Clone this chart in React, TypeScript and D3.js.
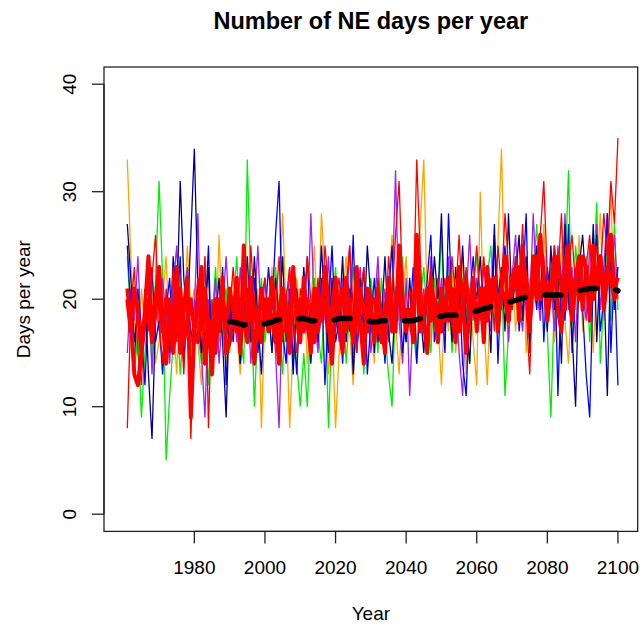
import React from "react";
import * as d3 from "d3";

// Annual counts of NE days, 1961–2100, one array per ensemble member.
const startYear = 1961;

const orange = [
  33, 24, 18, 15, 21, 17, 19, 23, 14, 16,
  20, 24, 15, 18, 13, 22, 17, 25, 19, 21,
  16, 12, 24, 18, 20, 15, 26, 17, 14, 19,
  22, 17, 13, 20, 24, 16, 18, 21, 8, 19,
  17, 23, 15, 20, 28, 19, 8, 16, 22, 18,
  21, 14, 19, 25, 17, 28, 22, 13, 18, 8,
  15, 20, 24, 17, 12, 19, 22, 16, 21, 18,
  14, 23, 19, 16, 21, 26, 18, 13, 20, 24,
  17, 21, 15, 27, 33, 19, 16, 22, 18, 12,
  20, 17, 23, 15, 19, 24, 13, 21, 16, 12,
  30, 18, 12, 22, 19, 25, 34, 20, 16, 23,
  17, 21, 26, 15, 22, 19, 24, 18, 27, 20,
  23, 16, 21, 25, 18, 14, 22, 19, 26, 17,
  20, 24, 15, 22, 28, 18, 23, 30, 19, 21,
];

const blue = [
  25, 19, 14, 21, 17, 12, 20, 23, 16, 18,
  13, 19, 22, 15, 18, 24, 14, 20, 17, 16,
  22, 15, 18, 25, 13, 20, 17, 23, 12, 19,
  16, 21, 14, 19, 24, 17, 22, 15, 20, 18,
  23, 19, 26, 31, 17, 14, 21, 18, 13, 20,
  18, 24, 15, 20, 16, 22, 12, 19, 25, 17,
  20, 14, 21, 17, 26, 15, 19, 23, 13, 18,
  22, 16, 19, 14, 20, 25, 17, 21, 15, 19,
  18, 23, 14, 20, 17, 22, 26, 16, 19, 21,
  15, 28, 19, 17, 22, 14, 11, 20, 24, 18,
  21, 16, 23, 19, 27, 14, 22, 25, 18, 20,
  24, 17, 21, 28, 15, 22, 19, 26, 16, 23,
  20, 25, 11, 22, 18, 27, 15, 21, 24, 19,
  13, 9, 22, 26, 17, 20, 28, 15, 23, 12,
];

const darkBlue = [
  27, 22, 16, 19, 14, 21, 13, 7, 18, 23,
  17, 20, 15, 24, 19, 31, 22, 18, 26, 34,
  21, 15, 19, 23, 13, 18, 22, 16, 9, 20,
  17, 22, 14, 19, 21, 16, 24, 18, 13, 20,
  19, 15, 22, 18, 24, 16, 20, 13, 21, 17,
  23, 18, 14, 20, 17, 25, 19, 15, 22, 16,
  18, 24, 16, 21, 13, 19, 22, 17, 25, 20,
  15, 21, 18, 24, 17, 14, 20, 23, 19, 16,
  22, 17, 25, 19, 15, 21, 18, 24, 20, 28,
  17, 21, 16, 23, 19, 25, 18, 14, 22, 20,
  24, 18, 21, 15, 26, 20, 23, 17, 28, 19,
  22, 26, 18, 24, 16, 21, 25, 19, 23, 17,
  25, 19, 22, 14, 27, 20, 17, 10, 23, 26,
  21, 18, 27, 16, 24, 22, 11, 25, 19, 23,
];

const green = [
  24, 18, 13, 17, 9, 15, 20, 14, 22, 31,
  22, 5, 11, 16, 19, 13, 18, 21, 15, 20,
  17, 14, 20, 12, 18, 23, 16, 19, 21, 15,
  19, 24, 17, 14, 33, 21, 10, 18, 22, 16,
  20, 15, 23, 18, 13, 21, 16, 19, 14, 10,
  15, 10, 19, 22, 17, 14, 21, 8, 18, 23,
  17, 21, 14, 19, 23, 16, 20, 13, 18, 22,
  19, 15, 22, 17, 13, 10, 20, 18, 24, 16,
  21, 17, 14, 20, 23, 18, 15, 22, 19, 26,
  18, 23, 15, 20, 17, 22, 19, 14, 21, 24,
  19, 16, 22, 25, 18, 20, 23, 11, 17, 21,
  23, 18, 25, 20, 16, 22, 27, 19, 21, 17,
  9, 20, 24, 18, 22, 32, 17, 25, 21, 19,
  24, 16, 22, 29, 14, 20, 25, 18, 27, 19,
];

const purple = [
  15, 21, 18, 24, 16, 19, 22, 13, 20, 17,
  22, 18, 14, 21, 25, 17, 20, 23, 16, 19,
  28, 15, 9, 20, 17, 22, 14, 19, 24, 18,
  20, 16, 23, 18, 21, 14, 19, 25, 17, 22,
  18, 21, 15, 8, 20, 17, 23, 14, 19, 16,
  22, 17, 28, 19, 15, 21, 18, 24, 16, 20,
  16, 22, 18, 25, 14, 20, 23, 17, 21, 15,
  19, 24, 17, 21, 16, 20, 32, 18, 14, 22,
  11, 19, 23, 17, 21, 15, 24, 20, 18, 22,
  19, 24, 17, 21, 15, 11, 20, 26, 18, 22,
  18, 23, 20, 17, 25, 21, 19, 24, 16, 22,
  26, 20, 17, 23, 19, 28, 21, 18, 24, 20,
  22, 17, 25, 20, 28, 19, 23, 16, 24, 21,
  18, 25, 21, 27, 19, 23, 28, 22, 26, 20,
];

const red = [
  8, 19, 23, 15, 12, 20, 17, 22, 26, 18,
  14, 21, 17, 23, 16, 19, 13, 20, 7, 18,
  22, 17, 24, 8, 20, 15, 18, 21, 16, 19,
  23, 18, 15, 21, 17, 25, 19, 16, 20, 22,
  17, 21, 19, 24, 16, 20, 23, 18, 15, 21,
  19, 24, 20, 17, 22, 18, 25, 21, 16, 20,
  22, 17, 21, 25, 19, 15, 20, 23, 18, 21,
  17, 22, 19, 15, 24, 20, 26, 31, 21, 18,
  21, 19, 33, 24, 17, 20, 23, 18, 22, 19,
  22, 18, 24, 20, 26, 19, 23, 17, 21, 25,
  20, 24, 19, 22, 17, 25, 21, 28, 23, 19,
  24, 21, 27, 19, 13, 23, 20, 26, 31, 22,
  20, 25, 22, 28, 19, 23, 26, 21, 24, 20,
  23, 26, 21, 25, 22, 28, 24, 31, 27, 35,
];

const redBoldA = [
  21, 18, 13, 12, 15, 19, 24, 17, 20, 23,
  18, 14, 20, 17, 23, 15, 19, 22, 9, 17,
  19, 23, 14, 18, 13, 20, 17, 22, 15, 16,
  18, 22, 15, 25, 17, 21, 14, 19, 16, 20,
  17, 22, 18, 14, 21, 19, 15, 23, 18, 16,
  22, 18, 15, 21, 17, 19, 23, 18, 14, 20,
  18, 15, 22, 19, 16, 23, 18, 14, 21, 19,
  16, 21, 18, 15, 22, 19, 17, 25, 20, 17,
  19, 16, 26, 20, 18, 15, 22, 19, 16, 21,
  18, 22, 19, 16, 23, 20, 15, 19, 22, 17,
  21, 16, 23, 19, 22, 17, 21, 24, 18, 22,
  23, 18, 25, 21, 17, 24, 20, 26, 22, 18,
  21, 24, 19, 17, 23, 25, 18, 22, 24, 19,
  23, 18, 25, 21, 24, 19, 22, 26, 21, 22,
];

const redBoldB = [
  20, 17, 21, 19, 15, 18, 20, 16, 19, 21,
  17, 20, 18, 15, 19, 21, 16, 18, 20, 17,
  16, 19, 21, 17, 18, 15, 20, 19, 17, 21,
  19, 17, 20, 18, 16, 22, 19, 17, 21, 18,
  20, 18, 16, 19, 21, 17, 19, 22, 18, 20,
  17, 20, 19, 16, 21, 18, 20, 17, 19, 22,
  19, 21, 17, 20, 16, 18, 21, 19, 17, 20,
  20, 18, 16, 19, 21, 17, 20, 22, 18, 19,
  18, 20, 22, 17, 19, 21, 18, 20, 19, 17,
  20, 18, 21, 19, 17, 20, 22, 18, 20, 19,
  19, 21, 18, 20, 22, 19, 21, 20, 18, 22,
  21, 23, 20, 22, 19, 21, 24, 20, 22, 21,
  20, 22, 24, 21, 19, 23, 21, 22, 20, 24,
  23, 21, 20, 22, 24, 21, 23, 22, 20, 21,
];

// 30-year running ensemble mean, 1990–2100
const meanStart = 1990;
const runningMean = [
  17.9, 17.9, 17.8, 17.7, 17.6, 17.7, 17.9, 17.9, 17.8, 17.7,
  17.7, 17.8, 17.9, 18.0, 18.1, 18.2, 18.2, 18.2, 18.1, 18.1,
  18.2, 18.2, 18.1, 18.0, 18.0, 17.9, 17.9, 18.0, 18.1, 18.1,
  18.1, 18.2, 18.2, 18.2, 18.2, 18.2, 18.1, 18.2, 18.1, 18.0,
  17.9, 17.9, 17.9, 18.0, 18.0, 18.1, 18.1, 18.1, 18.0, 18.0,
  18.0, 18.0, 18.0, 18.1, 18.2, 18.2, 18.3, 18.3, 18.4, 18.4,
  18.4, 18.5, 18.5, 18.5, 18.5, 18.6, 18.6, 18.6, 18.7, 18.8,
  18.9, 19.0, 19.1, 19.2, 19.3, 19.3, 19.4, 19.5, 19.6, 19.7,
  19.8, 19.9, 20.0, 20.1, 20.2, 20.2, 20.3, 20.3, 20.4, 20.4,
  20.4, 20.4, 20.4, 20.4, 20.4, 20.5, 20.6, 20.7, 20.8, 20.8,
  20.9, 20.9, 21.0, 21.0, 21.0, 21.0, 21.0, 21.0, 20.9, 20.9,
  20.8,
];

const xTicks = [1980, 2000, 2020, 2040, 2060, 2080, 2100];
const yTicks = [0, 10, 20, 30, 40];

const thinSeries: { values: number[]; color: string }[] = [
  { values: orange, color: "#FFA500" },
  { values: green, color: "#00EE00" },
  { values: purple, color: "#A020F0" },
  { values: blue, color: "#0000FF" },
  { values: darkBlue, color: "#00008B" },
  { values: red, color: "#FF0000" },
];
const boldSeries = [redBoldA, redBoldB];

const W = 640;
const H = 625;
const left = 104;
const right = 637.7;
const top = 67;
const bottom = 531.4;

export default function App() {
  const x = d3.scaleLinear().domain([1954.4, 2105.6]).range([left, right]);
  const y = d3.scaleLinear().domain([-1.6, 41.6]).range([bottom, top]);

  const line = d3
    .line<number>()
    .x((_, i) => x(startYear + i))
    .y((d) => y(d));
  const meanLine = d3
    .line<number>()
    .x((_, i) => x(meanStart + i))
    .y((d) => y(d));

  const font = "'Liberation Sans', Arial, sans-serif";
  const midX = (left + right) / 2;
  const midY = (top + bottom) / 2;

  return (
    <svg
      width={W}
      height={H}
      style={{ position: "absolute", left: 0, top: 0, background: "#fff" }}
      fontFamily={font}
    >
      <rect x={0} y={0} width={W} height={H} fill="#fff" />
      <defs>
        <clipPath id="plot-area">
          <rect x={left} y={top} width={right - left} height={bottom - top} />
        </clipPath>
      </defs>

      <g clipPath="url(#plot-area)" fill="none">
        {thinSeries.map((s, i) => (
          <path key={i} d={line(s.values) ?? ""} stroke={s.color} strokeWidth={1.3} />
        ))}
        {boldSeries.map((s, i) => (
          <path
            key={"b" + i}
            d={line(s) ?? ""}
            stroke="#FF0000"
            strokeWidth={4}
            strokeLinejoin="round"
          />
        ))}
        <path
          d={meanLine(runningMean) ?? ""}
          stroke="#000"
          strokeWidth={5.5}
          strokeDasharray="16 20"
          strokeLinecap="round"
          strokeLinejoin="round"
        />
      </g>

      <rect
        x={left}
        y={top}
        width={right - left}
        height={bottom - top}
        fill="none"
        stroke="#222"
        strokeWidth={1.3}
      />

      {/* x axis */}
      <line
        x1={x(xTicks[0])}
        x2={x(xTicks[xTicks.length - 1])}
        y1={bottom}
        y2={bottom}
        stroke="#222"
        strokeWidth={1.3}
      />
      {xTicks.map((t) => (
        <g key={t}>
          <line x1={x(t)} x2={x(t)} y1={bottom} y2={bottom + 12} stroke="#222" strokeWidth={1.3} />
          <text x={x(t)} y={573.5} fontSize={19} textAnchor="middle" fill="#000">
            {t}
          </text>
        </g>
      ))}

      {/* y axis */}
      <line x1={left} x2={left} y1={y(0)} y2={y(40)} stroke="#222" strokeWidth={1.3} />
      {yTicks.map((t) => (
        <g key={t}>
          <line x1={left - 12} x2={left} y1={y(t)} y2={y(t)} stroke="#222" strokeWidth={1.3} />
          <text
            transform={`translate(76,${y(t)}) rotate(-90)`}
            fontSize={19}
            textAnchor="middle"
            fill="#000"
          >
            {t}
          </text>
        </g>
      ))}

      <text x={midX} y={29} fontSize={23.5} fontWeight="bold" textAnchor="middle" fill="#000">
        Number of NE days per year
      </text>
      <text x={midX} y={620} fontSize={19} textAnchor="middle" fill="#000">
        Year
      </text>
      <text
        transform={`translate(29.5,${midY}) rotate(-90)`}
        fontSize={19}
        textAnchor="middle"
        fill="#000"
      >
        Days per year
      </text>
    </svg>
  );
}
